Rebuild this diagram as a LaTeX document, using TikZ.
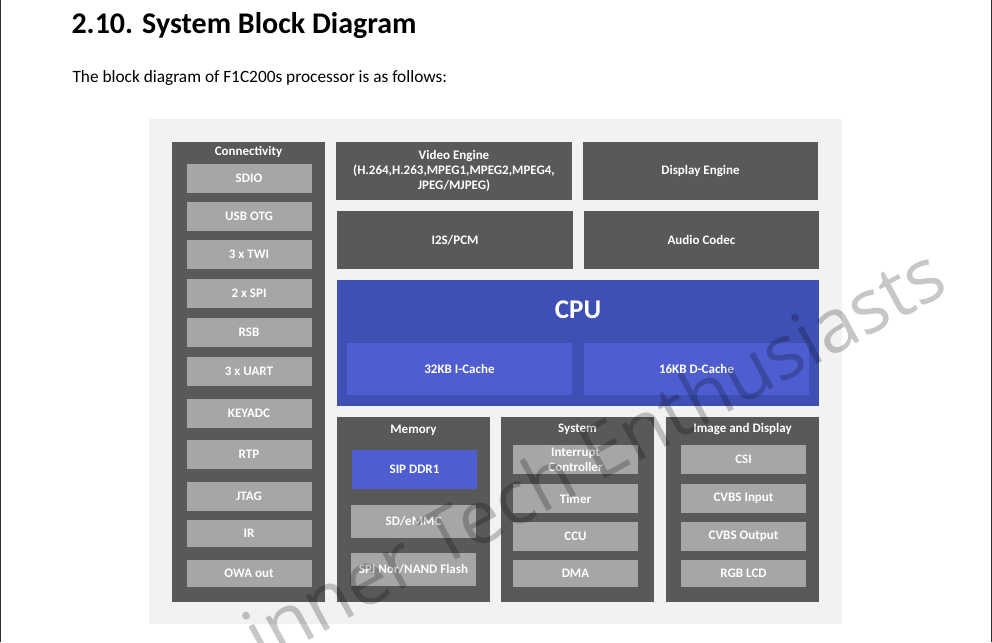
\documentclass[tikz,border=0pt]{standalone}
\usepackage{fontspec}
\setmainfont{Carlito}
\newfontfamily\wmfont{Open Sans}
\definecolor{panelgray}{HTML}{595959}
\definecolor{itemgray}{HTML}{A6A6A6}
\definecolor{bggray}{HTML}{F2F2F2}
\definecolor{edgegray}{HTML}{2E2E2E}
\definecolor{cpublue}{HTML}{3E50B3}
\definecolor{cacheblue}{HTML}{4E5ED0}
\begin{document}
\begin{tikzpicture}[x=1pt,y=-1pt,font=\fontsize{13}{15}\selectfont\bfseries]
	\tikzset{blk/.style 2 args={inner sep=0pt,align=center,text=white,
			minimum width=#1pt,minimum height=#2pt},
		panel/.style={fill=panelgray},
		item/.style={fill=itemgray},
		boxtitle/.style={inner sep=0pt,text=white}}
	\useasboundingbox (0,0) rectangle (992,642);
	\draw[edgegray,line width=1.3pt] (0.65,0)--(0.65,642);
	\draw[edgegray,line width=1.4pt] (991.3,0)--(991.3,642);
	\node[anchor=base west,font=\fontsize{30}{32}\selectfont\bfseries] (title) at (68,34) {2.10. System Block Diagram};
	\node[anchor=base west,font=\fontsize{17.3}{19}\selectfont] (intro) at (69,82) {The block diagram of F1C200s processor is as follows:};
	\fill[bggray] (149,119) rectangle (842,624);
	% Connectivity
	\node[panel,blk={153}{460}] (conn) at (248.5,372) {};
	\node[boxtitle] (conntitle) at (248.5,152) {Connectivity};
	\foreach \y/\h/\t/\n in {178.5/29/SDIO/sdio,216.5/29/USB OTG/usb,254.5/29/3 x TWI/twi,
		293.5/29/2 x SPI/spi,332.5/29/RSB/rsb,371.5/29/3 x UART/uart,413.5/29/KEYADC/keyadc,
		454.5/29/RTP/rtp,496.5/29/JTAG/jtag,533.5/27/IR/ir,573.5/27/OWA out/owa}{
		\node[item,blk={125}{\h}] (\n) at (249,\y) {\t};}
	% engines and audio
	\node[panel,blk={236}{58}] (video) at (454,171) {Video Engine\\(H.264,H.263,MPEG1,MPEG2,MPEG4,\\JPEG/MJPEG)};
	\node[panel,blk={235}{58}] (display) at (700.5,171) {Display Engine};
	\node[panel,blk={236}{58}] (i2s) at (455,240) {I2S/PCM};
	\node[panel,blk={235}{58}] (codec) at (701.5,240) {Audio Codec};
	% CPU
	\node[fill=cpublue,blk={482}{126}] (cpu) at (578,343) {};
	\node[boxtitle,font=\fontsize{27}{30}\selectfont\bfseries] (cputitle) at (578,310) {CPU};
	\node[fill=cacheblue,blk={225}{52}] (icache) at (459.5,369) {32KB I-Cache};
	\node[fill=cacheblue,blk={225}{52}] (dcache) at (696.5,369) {16KB D-Cache};
	% Memory
	\node[panel,blk={153}{185}] (mem) at (413.5,509.5) {};
	\node[boxtitle] (memtitle) at (413.5,430) {Memory};
	\node[fill=cacheblue,blk={125}{39}] (ddr) at (414.5,469.5) {SIP DDR1};
	\node[item,blk={125}{33}] (emmc) at (413.5,521.5) {SD/eMMC};
	\node[item,blk={125}{33}] (flash) at (413.5,569.5) {SPI Nor/NAND Flash};
	% System
	\node[panel,blk={153}{185}] (sys) at (577.5,509.5) {};
	\node[boxtitle] (systitle) at (577.5,429) {System};
	% Image and Display
	\node[panel,blk={153}{185}] (img) at (742.5,509.5) {};
	\node[boxtitle] (imgtitle) at (742.5,429) {Image and Display};
	\foreach \y/\h/\s/\t/\u/\v in {459.5/29/Interrupt\\Controller/intc/CSI/csi,
		498.5/29/Timer/timer/CVBS Input/cvbsin,536.5/29/CCU/ccu/CVBS Output/cvbsout,
		573.5/27/DMA/dma/RGB LCD/lcd}{
		\node[item,blk={125}{\h},font=\fontsize{13}{15}\selectfont\bfseries] (\t) at (575.5,\y) {\s};
		\node[item,blk={125}{\h}] (\v) at (743.5,\y) {\u};}
	% watermark
	\node[rotate=28.5,anchor=base east,font=\wmfont\fontsize{75}{75}\selectfont,text=black,text opacity=0.22] (wmark) at (954,290) {inner Tech Enthusiasts};
\end{tikzpicture}
\end{document}
